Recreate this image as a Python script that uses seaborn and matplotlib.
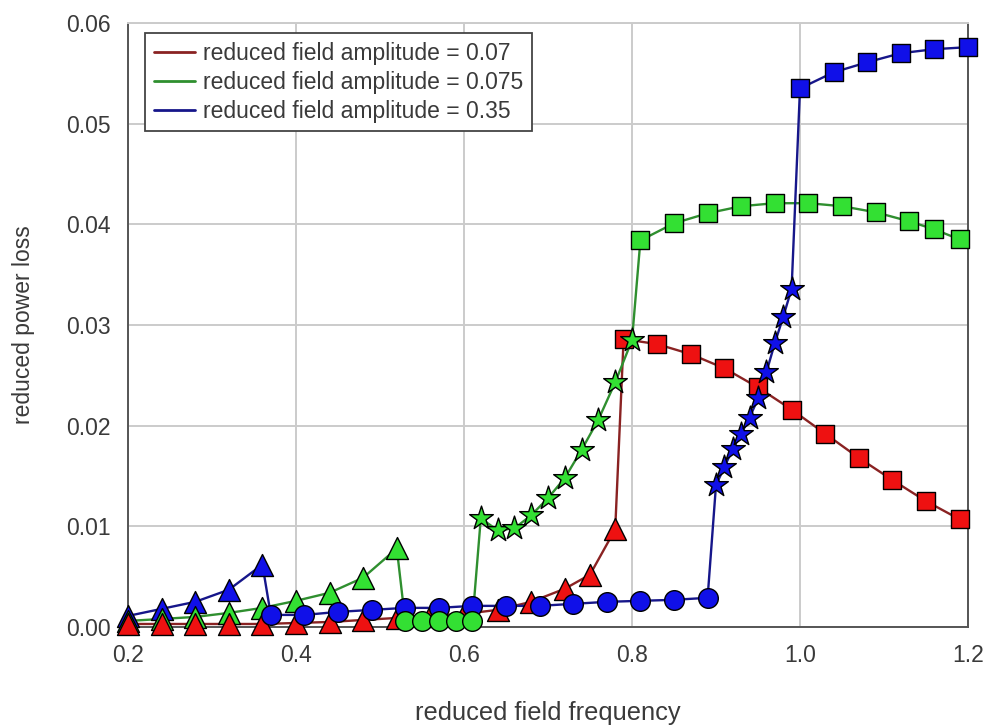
import numpy as np
import pandas as pd
import matplotlib
matplotlib.use("Agg")
import matplotlib.pyplot as plt
import seaborn as sns

# ---------------- data ----------------
amp_labels = ["reduced field amplitude = 0.07",
              "reduced field amplitude = 0.075",
              "reduced field amplitude = 0.35"]

# amplitude 0.07 (red)
red_tri_x = [0.20, 0.24, 0.28, 0.32, 0.36, 0.40, 0.44, 0.48, 0.52, 0.56, 0.60, 0.64, 0.68, 0.72, 0.75, 0.78]
red_tri_y = [0.0003, 0.0003, 0.0003, 0.0003, 0.0003, 0.0004, 0.0005, 0.0007, 0.0009, 0.0011, 0.0013, 0.0017, 0.0025, 0.0038, 0.0052, 0.0097]
red_sq_x = [0.79, 0.83, 0.87, 0.91, 0.95, 0.99, 1.03, 1.07, 1.11, 1.15, 1.19]
red_sq_y = [0.0286, 0.0281, 0.0271, 0.0257, 0.0238, 0.0216, 0.0192, 0.0168, 0.0146, 0.0125, 0.0107]

# amplitude 0.075 (green)
grn_tri_x = [0.20, 0.24, 0.28, 0.32, 0.36, 0.40, 0.44, 0.48, 0.52]
grn_tri_y = [0.0006, 0.0008, 0.0010, 0.0014, 0.0019, 0.0026, 0.0034, 0.0049, 0.0078]
grn_circ_x = [0.53, 0.55, 0.57, 0.59, 0.61]
grn_circ_y = [0.0006, 0.0006, 0.0006, 0.0006, 0.0006]
grn_star_x = [0.62, 0.64, 0.66, 0.68, 0.70, 0.72, 0.74, 0.76, 0.78, 0.80]
grn_star_y = [0.0108, 0.0096, 0.0098, 0.0111, 0.0128, 0.0148, 0.0176, 0.0206, 0.0243, 0.0285]
grn_sq_x = [0.81, 0.85, 0.89, 0.93, 0.97, 1.01, 1.05, 1.09, 1.13, 1.16, 1.19]
grn_sq_y = [0.0384, 0.0401, 0.0411, 0.0418, 0.0421, 0.0421, 0.0418, 0.0412, 0.0403, 0.0395, 0.0385]

# amplitude 0.35 (blue)
blu_tri_x = [0.20, 0.24, 0.28, 0.32, 0.36]
blu_tri_y = [0.0011, 0.0018, 0.0025, 0.0037, 0.0062]
blu_circ_x = [0.37, 0.41, 0.45, 0.49, 0.53, 0.57, 0.61, 0.65, 0.69, 0.73, 0.77, 0.81, 0.85, 0.89]
blu_circ_y = [0.0012, 0.0012, 0.0015, 0.0017, 0.0019, 0.0019, 0.0021, 0.0021, 0.0021, 0.0023, 0.0025, 0.0026, 0.0027, 0.0029]
blu_star_x = [0.90, 0.91, 0.92, 0.93, 0.94, 0.95, 0.96, 0.97, 0.98, 0.99]
blu_star_y = [0.0141, 0.0159, 0.0177, 0.0192, 0.0208, 0.0227, 0.0253, 0.0282, 0.0308, 0.0336]
blu_sq_x = [1.00, 1.04, 1.08, 1.12, 1.16, 1.20]
blu_sq_y = [0.0535, 0.0551, 0.0561, 0.0570, 0.0574, 0.0576]

x_ticks = [0.2, 0.4, 0.6, 0.8, 1.0, 1.2]
y_ticks = [0.00, 0.01, 0.02, 0.03, 0.04, 0.05, 0.06]
x_tick_labels = ["0.2", "0.4", "0.6", "0.8", "1.0", "1.2"]
y_tick_labels = ["0.00", "0.01", "0.02", "0.03", "0.04", "0.05", "0.06"]

# ---------------- build table ----------------
rows = []
def add(xs, ys, amp, regime):
    for x, y in zip(xs, ys):
        rows.append({"freq": x, "loss": y, "amp": amp, "regime": regime})

add(red_tri_x, red_tri_y, amp_labels[0], "tri")
add(red_sq_x, red_sq_y, amp_labels[0], "sq")
add(grn_tri_x, grn_tri_y, amp_labels[1], "tri")
add(grn_circ_x, grn_circ_y, amp_labels[1], "circ")
add(grn_star_x, grn_star_y, amp_labels[1], "star")
add(grn_sq_x, grn_sq_y, amp_labels[1], "sq")
add(blu_tri_x, blu_tri_y, amp_labels[2], "tri")
add(blu_circ_x, blu_circ_y, amp_labels[2], "circ")
add(blu_star_x, blu_star_y, amp_labels[2], "star")
add(blu_sq_x, blu_sq_y, amp_labels[2], "sq")
df = pd.DataFrame(rows)

line_cols = {amp_labels[0]: "#8a2222", amp_labels[1]: "#2f8f2f", amp_labels[2]: "#16168a"}
face_cols = {amp_labels[0]: "#ee1111", amp_labels[1]: "#33e033", amp_labels[2]: "#1010e8"}

# ---------------- plot ----------------
sns.set_style("white")
plt.rcParams["font.family"] = ["Liberation Sans", "DejaVu Sans"]
FS = 16.5
TXT = "#3a3a3a"

fig = plt.figure(figsize=(9.89, 7.25), dpi=100)
ax = fig.add_axes([128 / 989, 1 - 627 / 725, 840 / 989, 604 / 725])

ax.grid(True, color="#cbcbcb", linewidth=1.4, zorder=0)
ax.set_axisbelow(True)

sns.lineplot(data=df, x="freq", y="loss", hue="amp", palette=line_cols,
             estimator=None, sort=True, linewidth=1.7, ax=ax, zorder=2)

marker_map = {"tri": ("^", 250), "circ": ("o", 200), "star": ("*", 320), "sq": ("s", 160)}
order = [(amp_labels[2], "tri"), (amp_labels[1], "tri"), (amp_labels[0], "tri"),
         (amp_labels[0], "sq"), (amp_labels[2], "circ"), (amp_labels[1], "circ"),
         (amp_labels[1], "star"), (amp_labels[1], "sq"),
         (amp_labels[2], "star"), (amp_labels[2], "sq")]
for i, (amp, reg) in enumerate(order):
    sub = df[(df["amp"] == amp) & (df["regime"] == reg)]
    m, s = marker_map[reg]
    sns.scatterplot(data=sub, x="freq", y="loss", color=face_cols[amp], marker=m, s=s,
                    edgecolor="black", linewidth=1.0, legend=False, ax=ax,
                    zorder=3 + i * 0.1, clip_on=False)

ax.set_xlim(0.2, 1.2)
ax.set_ylim(0.0, 0.06)
ax.set_xticks(x_ticks)
ax.set_xticklabels(x_tick_labels)
ax.set_yticks(y_ticks)
ax.set_yticklabels(y_tick_labels)
ax.tick_params(axis="both", direction="inout", length=9, width=1.2, color="#555555",
               labelsize=FS, labelcolor=TXT, pad=8)
ax.set_xlabel("reduced field frequency", fontsize=18.3, color=TXT, labelpad=24)
ax.set_ylabel("reduced power loss", fontsize=FS, color=TXT, labelpad=22)

for side in ["left", "bottom", "right"]:
    ax.spines[side].set_color("#555555")
    ax.spines[side].set_linewidth(1.4)
ax.spines["top"].set_color("#cbcbcb")
ax.spines["top"].set_linewidth(1.4)

leg = ax.legend(loc="upper left", bbox_to_anchor=(17 / 840, 1 - 10 / 604), borderaxespad=0,
                fontsize=FS, frameon=True, fancybox=False, framealpha=1,
                handlelength=1.8, handletextpad=0.35, labelspacing=0.26, borderpad=0.38)
leg.get_frame().set_edgecolor("#444444")
leg.get_frame().set_linewidth(1.3)
leg.set_zorder(10)
for t in leg.get_texts():
    t.set_color(TXT)
for h in leg.get_lines():
    h.set_linewidth(2.0)

fig.savefig("out.png", dpi=100)
